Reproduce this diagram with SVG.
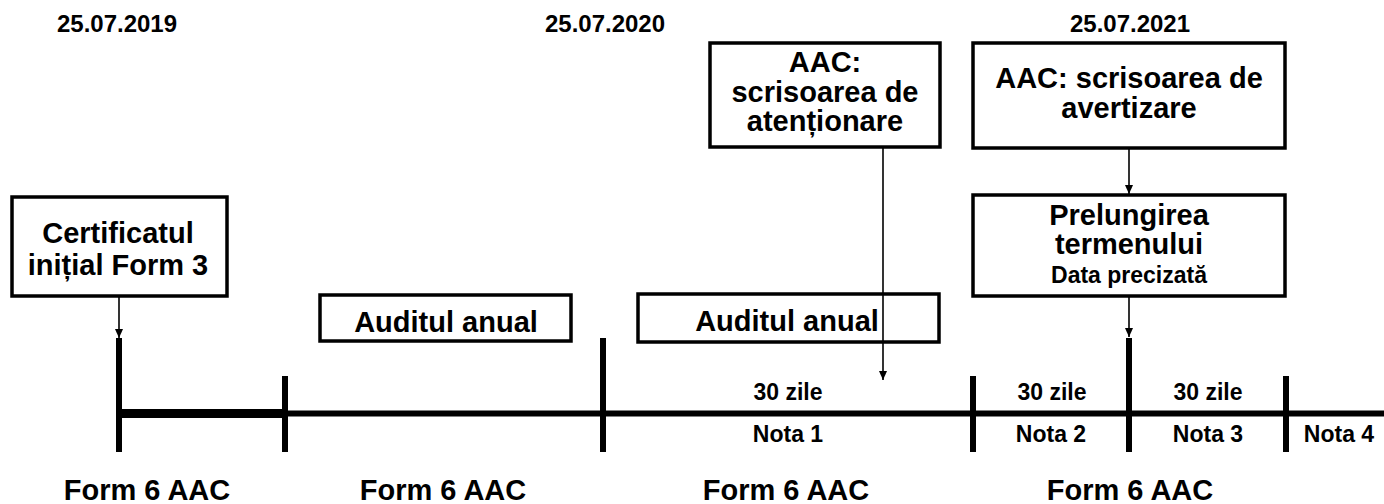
<svg xmlns="http://www.w3.org/2000/svg" width="1384" height="504" viewBox="0 0 1384 504">
<style>
text{font-family:"Liberation Sans",Arial,sans-serif;font-weight:bold;fill:#000;text-anchor:middle}
.big{font-size:29px}
.sm{font-size:23px}
.dt{font-size:24px}
.xs{font-size:23px}
.box{fill:#fff;stroke:#000;stroke-width:3.5}
.tick{stroke:#000;stroke-width:6}
.arr{stroke:#000;stroke-width:1.6;fill:none;marker-end:url(#ah)}
</style>
<defs>
<marker id="ah" markerWidth="10" markerHeight="10" refX="9" refY="5" orient="auto" markerUnits="userSpaceOnUse">
<path d="M0,1 L9,5 L0,9 Z" fill="#000"/>
</marker>
</defs>
<rect width="1384" height="504" fill="#fff"/>
<g id="dates">
<text class="dt" x="117" y="32">25.07.2019</text>
<text class="dt" x="605" y="32">25.07.2020</text>
<text class="dt" x="1130" y="32">25.07.2021</text>
</g>
<g id="timeline">
<line x1="119" y1="413.5" x2="285" y2="413.5" stroke="#000" stroke-width="9"/>
<line x1="285" y1="413.5" x2="1384" y2="413.5" stroke="#000" stroke-width="6"/>
<line class="tick" x1="119" y1="338" x2="119" y2="452"/>
<line class="tick" x1="285" y1="376" x2="285" y2="452"/>
<line class="tick" x1="603" y1="338" x2="603" y2="452"/>
<line class="tick" x1="973" y1="376" x2="973" y2="452"/>
<line class="tick" x1="1129" y1="338" x2="1129" y2="452"/>
<line class="tick" x1="1286" y1="376" x2="1286" y2="452"/>
</g>
<g id="n-cert">
<rect class="box" x="12" y="197" width="215" height="99"/>
<text class="big" x="118" y="243">Certificatul</text>
<text class="big" x="118" y="275">inițial Form 3</text>
</g>
<g id="n-audit1">
<rect class="box" x="320" y="295" width="251" height="46"/>
<text class="big" x="446" y="332">Auditul anual</text>
</g>
<g id="n-audit2">
<rect class="box" x="638" y="294" width="301" height="48"/>
<text class="big" x="787" y="331">Auditul anual</text>
</g>
<g id="n-atentionare">
<rect class="box" x="710" y="43" width="230" height="104"/>
<text class="big" x="825" y="72">AAC:</text>
<text class="big" x="825" y="102">scrisoarea de</text>
<text class="big" x="825" y="131">atenționare</text>
</g>
<g id="n-avertizare">
<rect class="box" x="973" y="43" width="312" height="105"/>
<text class="big" x="1129" y="88">AAC: scrisoarea de</text>
<text class="big" x="1129" y="118">avertizare</text>
</g>
<g id="n-prelungire">
<rect class="box" x="973" y="195" width="312" height="101"/>
<text class="big" x="1129" y="225">Prelungirea</text>
<text class="big" x="1129" y="254">termenului</text>
<text class="xs" x="1129" y="283">Data precizată</text>
</g>
<g id="labels">
<text class="sm" x="788" y="400">30 zile</text>
<text class="sm" x="1052" y="400">30 zile</text>
<text class="sm" x="1208" y="400">30 zile</text>
<text class="sm" x="788" y="442">Nota 1</text>
<text class="sm" x="1051" y="442">Nota 2</text>
<text class="sm" x="1208" y="442">Nota 3</text>
<text class="sm" x="1339" y="442">Nota 4</text>
<text class="big" x="147" y="500">Form 6 AAC</text>
<text class="big" x="443" y="500">Form 6 AAC</text>
<text class="big" x="786" y="500">Form 6 AAC</text>
<text class="big" x="1130" y="500">Form 6 AAC</text>
</g>
<g id="connectors">
<line class="arr" x1="119" y1="296" x2="119" y2="338"/>
<line class="arr" x1="883" y1="147" x2="883" y2="380"/>
<line class="arr" x1="1129" y1="148" x2="1129" y2="194"/>
<line class="arr" x1="1129" y1="296" x2="1129" y2="337"/>
</g>
</svg>
